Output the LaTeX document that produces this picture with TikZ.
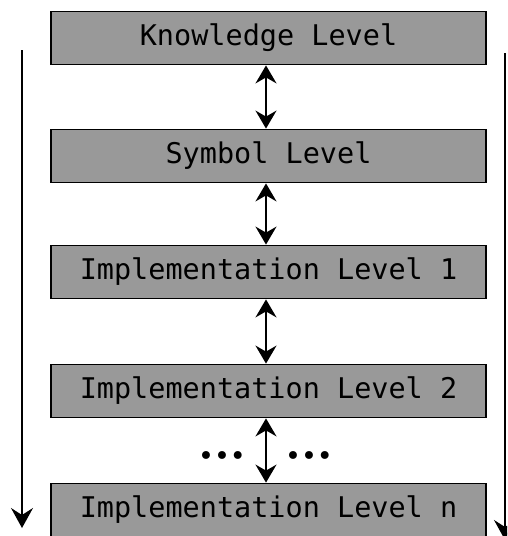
\documentclass[tikz,border=0pt]{standalone}
\usepackage{fontspec}
\setmonofont{DejaVu Sans Mono}
\newfontfamily\dotfont{DejaVu Sans}
\usetikzlibrary{arrows.meta}
\begin{document}
\begin{tikzpicture}[x=1pt,y=-1pt,
  levelbox/.style={draw=black, line width=1.8pt, fill=black!40, minimum width=435pt, minimum height=53pt, inner sep=0pt, font=\ttfamily\fontsize{28.5}{30}\selectfont},
  link/.style={line width=1.8pt, {Stealth[length=18pt,width=21pt,inset=6pt]}-{Stealth[length=18pt,width=21pt,inset=6pt]}},
  flow/.style={line width=1.6pt, -{Stealth[length=20pt,width=22pt,inset=7pt]}},
  dots/.style={font=\dotfont\fontsize{27}{27}\selectfont, inner sep=0pt}]
\useasboundingbox (0,0) rectangle (507,536);
\clip (0,0) rectangle (507,536);
\node[levelbox] (k) at (268.5,38) {Knowledge Level};
\node[levelbox] (s) at (268.5,156) {Symbol Level};
\node[levelbox] (i1) at (268.5,272) {Implementation Level 1};
\node[levelbox] (i2) at (268.5,391) {Implementation Level 2};
\node[levelbox] (in) at (268.5,510) {Implementation Level n};
\draw[link] (k.south -| 266,0) -- (s.north -| 266,0);
\draw[link] (s.south -| 266,0) -- (i1.north -| 266,0);
\draw[link] (i1.south -| 266,0) -- (i2.north -| 266,0);
\draw[link] (i2.south -| 266,0) -- (in.north -| 266,0);
\node[dots] (dl) at (222,459) {•••};
\node[dots] (dr) at (309,459) {•••};
\coordinate (ls) at (22,50);
\coordinate (le) at (22,528);
\coordinate (rs) at (505,53);
\coordinate (re) at (505,540);
\draw[flow] (ls) -- (le);
\draw[flow] (rs) -- (re);
\end{tikzpicture}
\end{document}
